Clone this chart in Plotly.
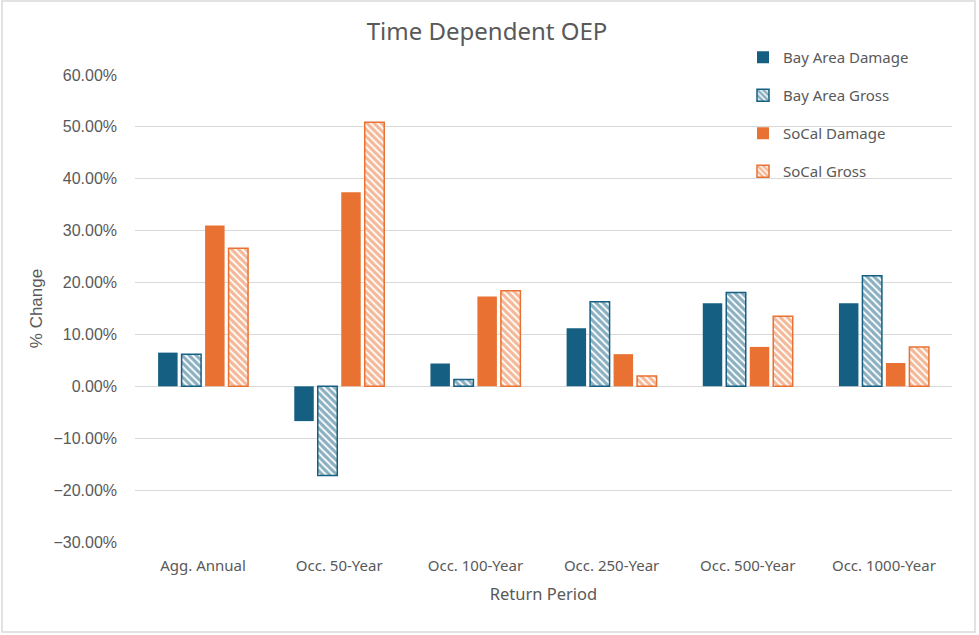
import plotly.graph_objects as go

categories = ["Agg. Annual", "Occ. 50-Year", "Occ. 100-Year", "Occ. 250-Year", "Occ. 500-Year", "Occ. 1000-Year"]
bay_damage = [0.065, -0.067, 0.044, 0.112, 0.160, 0.160]
bay_gross = [0.062, -0.172, 0.013, 0.163, 0.181, 0.213]
socal_damage = [0.310, 0.374, 0.173, 0.062, 0.076, 0.045]
socal_gross = [0.266, 0.509, 0.184, 0.020, 0.135, 0.076]

BLUE = "#156082"
ORANGE = "#E97132"
GRAY = "#595959"
FONT = "Noto Sans"
ARIAL = "Liberation Sans"

W, H = 979, 635
L, R, T, B = 135, 27, 75, 93

fig = go.Figure()

def add(name, vals, color, patterned):
    if patterned:
        marker = dict(color="white", line=dict(color=color, width=1.5),
                      pattern=dict(shape="\\", fgcolor=color, bgcolor="white",
                                   size=5, solidity=0.65, fillmode="overlay"))
    else:
        marker = dict(color=color, line=dict(width=0))
    fig.add_trace(go.Bar(name=name, x=categories, y=vals, marker=marker,
                         legendgroup=name))

add("Bay Area Damage", bay_damage, BLUE, False)
add("Bay Area Gross", bay_gross, BLUE, True)
add("SoCal Damage", socal_damage, ORANGE, False)
add("SoCal Gross", socal_gross, ORANGE, True)

pw = W - L - R
ph = H - T - B

fig.update_layout(
    width=W, height=H,
    margin=dict(l=L, r=R, t=T, b=B, pad=0),
    paper_bgcolor="white", plot_bgcolor="white",
    font=dict(family=FONT, size=14, color=GRAY),
    title=dict(text="Time Dependent OEP", x=(487) / W, xanchor="center",
               y=1 - 32 / H, yanchor="middle",
               font=dict(size=24, color=GRAY, family=FONT)),
    barmode="group", bargap=0.31, bargroupgap=0.17,
    legend=dict(x=(743 - L) / pw, xanchor="left", y=1 + (75 - 41) / ph, yanchor="top",
                bgcolor="rgba(0,0,0,0)", tracegroupgap=15.5,
                font=dict(size=15, color=GRAY, family=FONT)),
    xaxis=dict(showgrid=False, showline=False, ticks="",
               tickfont=dict(size=15, color=GRAY), ticklabelstandoff=13,
               title=dict(text="Return Period", font=dict(size=16.5, color=GRAY), standoff=14)),
    yaxis=dict(range=[-0.30, 0.60], dtick=0.10, tickformat=".2%",
               showgrid=True, gridcolor="#D9D9D9", gridwidth=1,
               zeroline=True, zerolinecolor="#D9D9D9", zerolinewidth=1,
               showline=False, ticks="", ticklabelstandoff=17,
               tickfont=dict(size=16, color=GRAY, family=ARIAL),
               title=dict(text="% Change", font=dict(size=17, color=GRAY, family=ARIAL), standoff=6)),
    shapes=[dict(type="rect", xref="paper", yref="paper",
                 x0=(2 - L) / pw, x1=(975 - L) / pw,
                 y0=-(632 - (H - B)) / ph, y1=1 + (T - 1) / ph,
                 line=dict(color="#D9D9D9", width=1.5), fillcolor="rgba(0,0,0,0)",
                 layer="below")],
)

fig.write_html("out.html", config={"displayModeBar": False},
               post_script="document.body.style.margin='0';document.body.style.overflow='hidden';")
